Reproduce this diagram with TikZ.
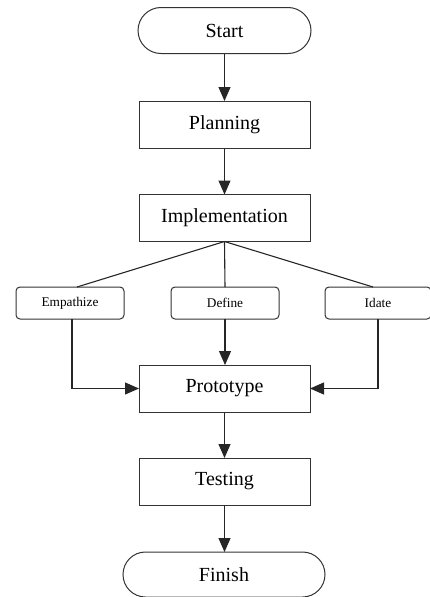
\documentclass[tikz,border=0pt]{standalone}
\usepackage{fontspec}
\setmainfont{Liberation Serif}
\usetikzlibrary{arrows.meta}
\begin{document}
\begin{tikzpicture}[x=1pt,y=-1pt,
  every node/.style={inner sep=0pt, outer sep=0pt, line width=1pt, draw=black!80, text=black},
  term/.style={minimum width=#1, minimum height=46pt, rounded corners=23pt, font=\fontsize{20}{24}\selectfont},
  term/.default=173pt,
  proc/.style={minimum width=171pt, minimum height=47pt, font=\fontsize{20}{24}\selectfont},
  phase/.style={minimum width=108pt, minimum height=32pt, rounded corners=4pt, font=\fontsize{13.3}{16}\selectfont},
  link/.style={line width=1.1pt, draw=black!85},
  arr/.style={link, -{Triangle[width=12pt, length=14pt]}}
]
\useasboundingbox (0,0) rectangle (430,597);

% main column
\node[term] (start) at (224.5,30.5) {Start};
\node[proc] (plan) at (224.5,124.5) {Planning};
\node[proc] (impl) at (224.5,218) {Implementation};

% design-thinking phases
\node[phase] (emp) at (70,303) {Empathize};
\node[phase] (def) at (225,303) {Define};
\node[phase, minimum width=106pt] (idate) at (378,303) {Idate};

\node[proc] (proto) at (224.5,388.5) {Prototype};
\node[proc] (test) at (224.5,481.5) {Testing};
\node[term=202pt, minimum height=45pt, rounded corners=22.5pt] (finish) at (224,574.5) {Finish};

% flow
\draw[arr] (start) -- (plan);
\draw[arr] (plan) -- (impl);
\draw[link] (impl.south) -- ([xshift=7pt]emp.north);
\draw[link] (impl.south) -- (def.north);
\draw[link] (impl.south) -- ([xshift=-5pt]idate.north);
\draw[arr] ([xshift=2pt]emp.south) |- (proto.west);
\draw[arr] (def.south) -- (def.south |- proto.north);
\draw[arr] (idate.south) |- (proto.east);
\draw[arr] (proto) -- (test);
\draw[arr] (test) -- (test |- finish.north);
\end{tikzpicture}
\end{document}
